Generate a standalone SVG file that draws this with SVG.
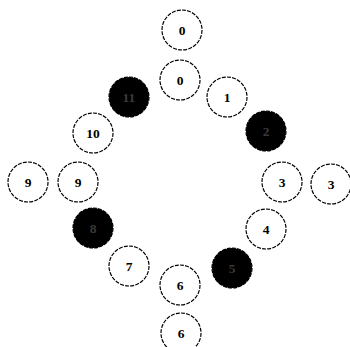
<svg xmlns="http://www.w3.org/2000/svg" width="350" height="347" viewBox="0 0 350 347">
<style>
.n circle{fill:#fff;stroke:#000;stroke-width:1.2;stroke-dasharray:4 1.2}
.f circle{fill:#000;stroke:#000;stroke-width:1.2;stroke-dasharray:4 1.2}
text{font-family:"Liberation Serif","Times New Roman",serif;font-weight:bold;font-size:13.5px;text-anchor:middle;dominant-baseline:central;fill:#000}
.f text{fill:#3a3a3a}
</style>
<rect width="350" height="347" fill="#fff"/>
<g id="n0o" class="n"><circle cx="182" cy="30" r="20"/><text x="182" y="30">0</text></g>
<g id="n0" class="n"><circle cx="180" cy="80" r="20"/><text x="180" y="80">0</text></g>
<g id="n1" class="n"><circle cx="227" cy="97" r="20"/><text x="227" y="97">1</text></g>
<g id="n11" class="f"><circle cx="129" cy="97" r="20"/><text x="129" y="97">11</text></g>
<g id="n10" class="n"><circle cx="93" cy="133" r="20"/><text x="93" y="133">10</text></g>
<g id="n2" class="f"><circle cx="266" cy="131" r="20"/><text x="266" y="131">2</text></g>
<g id="n9o" class="n"><circle cx="28" cy="182" r="20"/><text x="28" y="182">9</text></g>
<g id="n9" class="n"><circle cx="78" cy="182" r="20"/><text x="78" y="182">9</text></g>
<g id="n3" class="n"><circle cx="282" cy="182" r="20"/><text x="282" y="182">3</text></g>
<g id="n3o" class="n"><circle cx="331" cy="184" r="20"/><text x="331" y="184">3</text></g>
<g id="n8" class="f"><circle cx="93" cy="228" r="20"/><text x="93" y="228">8</text></g>
<g id="n4" class="n"><circle cx="266" cy="229" r="20"/><text x="266" y="229">4</text></g>
<g id="n7" class="n"><circle cx="129" cy="266" r="20"/><text x="129" y="266">7</text></g>
<g id="n5" class="f"><circle cx="232" cy="268" r="20"/><text x="232" y="268">5</text></g>
<g id="n6" class="n"><circle cx="180" cy="285" r="20"/><text x="180" y="285">6</text></g>
<g id="n6o" class="n"><circle cx="181" cy="333" r="20"/><text x="181" y="333">6</text></g>
<g id="connectors"/>
</svg>
